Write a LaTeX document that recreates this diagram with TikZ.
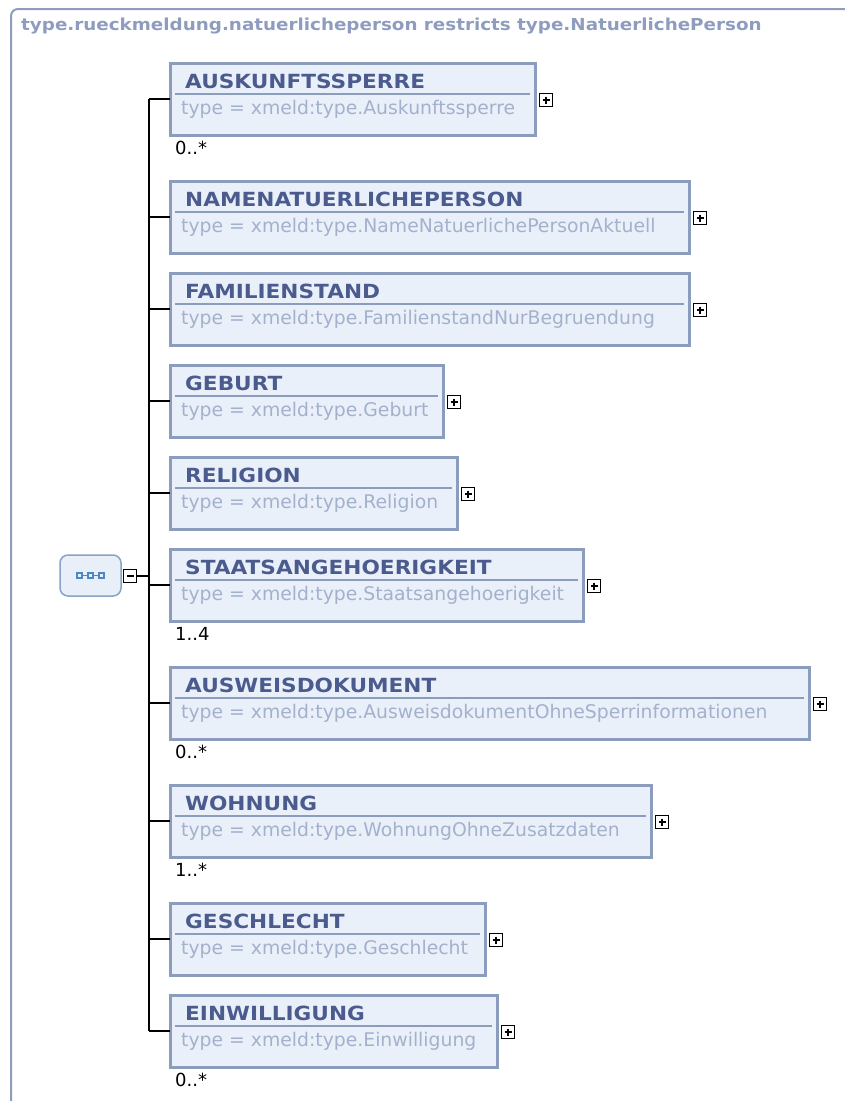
\documentclass[tikz,border=0pt]{standalone}
\usepackage{fontspec}
\setmainfont{DejaVu Sans}
\newfontfamily\titlefont[FakeStretch=1.11]{DejaVu Sans}
\newfontfamily\headfont[FakeStretch=1.11]{DejaVu Sans}
\newfontfamily\typefont{DejaVu Sans}
\usetikzlibrary{calc}
\definecolor{frameC}{HTML}{8E9DBF}
\definecolor{boxFill}{HTML}{EAF0FA}
\definecolor{boxLine}{HTML}{8C9CBD}
\definecolor{titleC}{HTML}{4B5B8E}
\definecolor{typeC}{HTML}{A3B1CC}
\definecolor{seqFill}{HTML}{E9EFF9}
\definecolor{seqLine}{HTML}{87A3C6}
\definecolor{seqIcon}{HTML}{4F86C6}
\tikzset{
  elbox/.style={draw=boxLine, fill=boxFill, line width=3pt, inner sep=0pt, outer sep=0pt, rectangle},
  divider/.style={draw=boxLine, line width=1.5pt},
  eltitle/.style={anchor=base west, inner sep=0pt, text=titleC, font=\titlefont\fontsize{19.5}{19.5}\selectfont\bfseries},
  eltype/.style={anchor=base west, inner sep=0pt, text=typeC, font=\typefont\fontsize{18.8}{18.8}\selectfont},
  card/.style={anchor=base west, inner sep=0pt, text=black, font=\fontsize{18}{18}\selectfont},
  togglebox/.style={draw=black, fill=white, line width=1.8pt, minimum width=13pt, minimum height=13pt, inner sep=0pt, outer sep=0pt},
  conn/.style={draw=black, line width=1.8pt},
  header/.style={anchor=base west, inner sep=0pt, text=frameC, font=\headfont\fontsize{16.5}{16.5}\selectfont\bfseries},
}
\begin{document}
\begin{tikzpicture}[x=1pt,y=-1pt]
\useasboundingbox (0,0) rectangle (845,1101);
% frame
\draw[frameC, line width=2pt, rounded corners=7pt] (11,1105) -- (11,9) -- (850,9);
\node[header] (hdr) at (21,30) {type.rueckmeldung.natuerlicheperson restricts type.NatuerlichePerson};
% elements
\foreach \n/\t/\r/\ti/\ty in {
  1/63/535/AUSKUNFTSSPERRE/Auskunftssperre,
  2/181/689/NAMENATUERLICHEPERSON/NameNatuerlichePersonAktuell,
  3/273/689/FAMILIENSTAND/FamilienstandNurBegruendung,
  4/365/443/GEBURT/Geburt,
  5/457/457/RELIGION/Religion,
  6/549/583/STAATSANGEHOERIGKEIT/Staatsangehoerigkeit,
  7/667/809/AUSWEISDOKUMENT/AusweisdokumentOhneSperrinformationen,
  8/785/651/WOHNUNG/WohnungOhneZusatzdaten,
  9/903/485/GESCHLECHT/Geschlecht,
  10/995/497/EINWILLIGUNG/Einwilligung}{
  \pgfmathsetmacro\w{\r-170}
  \node[elbox, anchor=north west, minimum width=\w pt, minimum height=72pt] (b\n) at (170,\t) {};
  \draw[divider] ($(b\n.north west)+(5,31)$) -- ($(b\n.north east)+(-5,31)$);
  \node[eltitle] (t\n) at ($(b\n.north west)+(15,25)$) {\ti};
  \node[eltype] (y\n) at ($(b\n.north west)+(11,51)$) {type = xmeld:type.\ty};
  \node[togglebox] (p\n) at ($(b\n.east)+(11,1)$) {};
  \draw[black, line width=1.6pt] ($(p\n.center)+(-3.5,0)$) -- ($(p\n.center)+(3.5,0)$);
  \draw[black, line width=1.6pt] ($(p\n.center)+(0,-3.5)$) -- ($(p\n.center)+(0,3.5)$);
}
% cardinalities
\node[card] (c1) at (175,154) {0..*};
\node[card] (c6) at (175,640) {1..4};
\node[card] (c7) at (175,758) {0..*};
\node[card] (c8) at (175,876) {1..*};
\node[card] (c10) at (175,1086) {0..*};
% sequence compositor
\node[draw=seqLine, fill=seqFill, line width=1.5pt, rounded corners=8pt, minimum width=61pt, minimum height=41pt, inner sep=0pt] (seq) at (90.5,575.5) {};
\draw[seqIcon, line width=1.2pt] ($(seq.center)+(-11,0)$) -- ($(seq.center)+(11,0)$);
\foreach \dx in {-11,0,11}{
  \filldraw[draw=seqIcon, fill=seqFill, line width=1.2pt] ($(seq.center)+(\dx-2.5,-2.5)$) rectangle ($(seq.center)+(\dx+2.5,2.5)$);
}
\node[togglebox] (mn) at (130,576) {};
\draw[black, line width=1.6pt] ($(mn.center)+(-3.5,0)$) -- ($(mn.center)+(3.5,0)$);
\coordinate (spine) at (149,576);
\draw[conn] (mn.east) -- (spine);
\draw[conn] (b1.west -| spine) -- (b10.west -| spine);
\foreach \n in {1,...,10}{
  \draw[conn] (b\n.west -| spine) -- (b\n.west);
}
\end{tikzpicture}
\end{document}
